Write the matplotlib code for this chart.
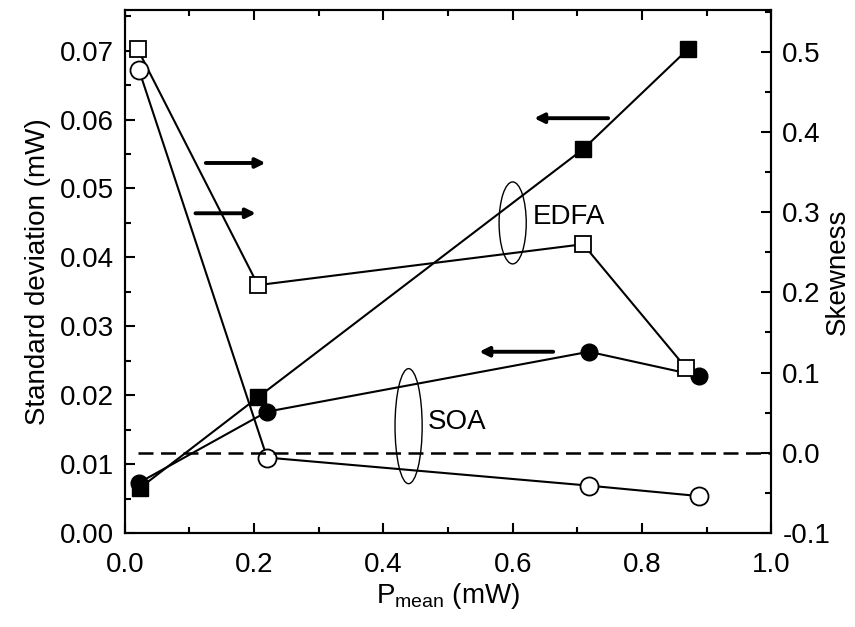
import matplotlib
matplotlib.use("Agg")
import matplotlib.pyplot as plt
from matplotlib.patches import Ellipse
from matplotlib.ticker import MultipleLocator, FormatStrFormatter

plt.rcParams['font.family'] = ['Liberation Sans', 'DejaVu Sans']
plt.rcParams['mathtext.fontset'] = 'custom'
plt.rcParams['mathtext.rm'] = 'Liberation Sans'
plt.rcParams['axes.unicode_minus'] = False

# EDFA / SOA data
edfa_p_std = [0.023, 0.206, 0.709, 0.871]
edfa_std = [0.0065, 0.0197, 0.0557, 0.0702]
soa_p_std = [0.022, 0.220, 0.718, 0.888]
soa_std = [0.0073, 0.0176, 0.0263, 0.0228]

edfa_p_skew = [0.020, 0.206, 0.709, 0.868]
edfa_skew = [0.503, 0.209, 0.260, 0.106]
soa_p_skew = [0.022, 0.220, 0.718, 0.888]
soa_skew = [0.477, -0.006, -0.041, -0.054]

fig = plt.figure(figsize=(8.55, 6.27), dpi=100)
ax = fig.add_axes([0.146, 0.150, 0.756, 0.834])
ax2 = ax.twinx()

# left axis: standard deviation (filled symbols)
ax.plot(edfa_p_std, edfa_std, '-', color='black', lw=1.5,
        marker='s', ms=12, mfc='black', mec='black')
ax.plot(soa_p_std, soa_std, '-', color='black', lw=1.5,
        marker='o', ms=12, mfc='black', mec='black')

# right axis: skewness (open symbols)
ax2.plot(edfa_p_skew, edfa_skew, '-', color='black', lw=1.5,
         marker='s', ms=12, mfc='white', mec='black', mew=1.3)
ax2.plot(soa_p_skew, soa_skew, '-', color='black', lw=1.5,
         marker='o', ms=13, mfc='white', mec='black', mew=1.3)
ax2.plot([0.02, 1.0], [0.0, 0.0], color='black', lw=1.8, ls=(0, (6, 3)))

ax.set_xlim(0, 1.0)
ax.set_ylim(0, 0.0759)
ax2.set_ylim(-0.1, 0.552)

ax.xaxis.set_major_locator(MultipleLocator(0.2))
ax.xaxis.set_minor_locator(MultipleLocator(0.1))
ax.yaxis.set_major_locator(MultipleLocator(0.01))
ax.yaxis.set_minor_locator(MultipleLocator(0.005))
ax.yaxis.set_major_formatter(FormatStrFormatter('%.2f'))
ax.xaxis.set_major_formatter(FormatStrFormatter('%.1f'))
ax2.yaxis.set_major_locator(MultipleLocator(0.1))
ax2.yaxis.set_minor_locator(MultipleLocator(0.05))
ax2.yaxis.set_major_formatter(FormatStrFormatter('%.1f'))

ax.tick_params(which='both', direction='in', top=True, labelsize=20, width=1.5, pad=8)
ax.tick_params(axis='x', which='major', pad=14)
ax.tick_params(which='major', length=7)
ax.tick_params(which='minor', length=4)
ax2.tick_params(which='both', direction='in', labelsize=20, width=1.5, pad=8)
ax2.tick_params(which='major', length=7)
ax2.tick_params(which='minor', length=4)
for a in (ax, ax2):
    for s in a.spines.values():
        s.set_linewidth(1.5)

ax.set_xlabel('P$_{\\rm mean}$ (mW)', fontsize=20, labelpad=2)
ax.set_ylabel('Standard deviation (mW)', fontsize=20, labelpad=6)
ax2.set_ylabel('Skewness', fontsize=20, labelpad=-4)

# arrows pointing to the relevant axis
arrow = dict(arrowstyle='-|>', lw=2.8, color='black', mutation_scale=14)
ax.annotate('', xy=(0.222, 0.0537), xytext=(0.121, 0.0537), arrowprops=arrow)
ax.annotate('', xy=(0.207, 0.0464), xytext=(0.105, 0.0464), arrowprops=arrow)
ax.annotate('', xy=(0.629, 0.0602), xytext=(0.752, 0.0602), arrowprops=arrow)
ax.annotate('', xy=(0.544, 0.0263), xytext=(0.667, 0.0263), arrowprops=arrow)

# ellipses grouping the curves
ax.add_patch(Ellipse((0.600, 0.0450), 0.042, 0.0119, fill=False, lw=1.0, color='black'))
ax.add_patch(Ellipse((0.439, 0.0155), 0.042, 0.0167, fill=False, lw=1.0, color='black'))
ax.text(0.631, 0.0459, 'EDFA', fontsize=20, va='center', ha='left')
ax.text(0.468, 0.0161, 'SOA', fontsize=20, va='center', ha='left')

fig.savefig('out.png', dpi=100)
